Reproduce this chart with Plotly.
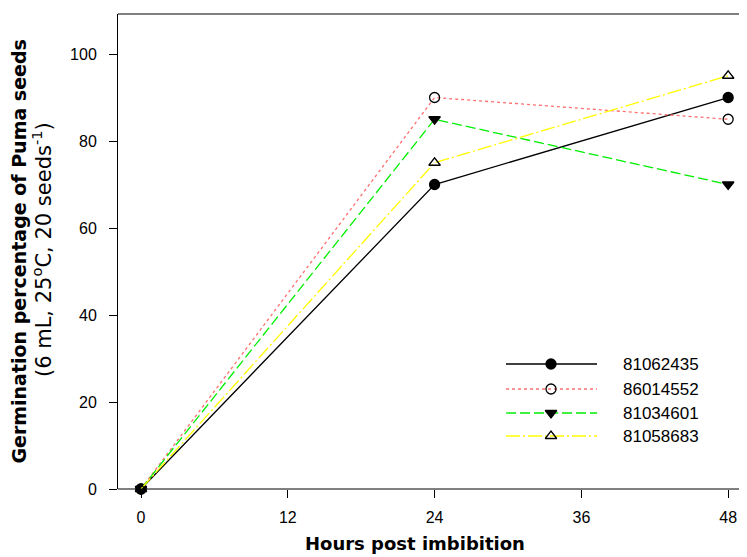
import plotly.graph_objects as go

hours = [0, 24, 48]
series_names = ["81062435", "86014552", "81034601", "81058683"]
s_81062435 = [0, 70, 90]
s_86014552 = [0, 90, 85]
s_81034601 = [0, 85, 70]
s_81058683 = [0, 75, 95]
x_ticks = [0, 12, 24, 36, 48]
y_ticks = [0, 20, 40, 60, 80, 100]

values = [s_81062435, s_86014552, s_81034601, s_81058683]
styles = [
    dict(color="#000000", dash="solid", symbol="circle", mcolor="#000000"),
    dict(color="#ff7070", dash="dot", symbol="circle-open", mcolor="#000000"),
    dict(color="#00ee00", dash="10px,4px", symbol="triangle-down", mcolor="#000000"),
    dict(color="#ffff00", dash="14px,3px,2px,3px", symbol="triangle-up-open", mcolor="#000000"),
]

FONT = "Arial, Liberation Sans, sans-serif"
TFONT = "DejaVu Sans, sans-serif"
fig = go.Figure()

for name, vals, st in zip(series_names, values, styles):
    fig.add_trace(go.Scatter(
        x=hours, y=vals, name=name, mode="lines+markers",
        line=dict(color=st["color"], width=1.3, dash=st["dash"]),
        marker=dict(symbol=st["symbol"], size=10, color=st["mcolor"],
                    line=dict(color="#000000", width=1.3)),
        cliponaxis=False, showlegend=False,
    ))

# custom legend (overlay axes in page-pixel coordinates)
leg_y = [364, 389, 413, 436]
for name, st, ly in zip(series_names, styles, leg_y):
    fig.add_trace(go.Scatter(
        x=[506, 597], y=[ly, ly], mode="lines", xaxis="x2", yaxis="y2",
        line=dict(color=st["color"], width=1.3, dash=st["dash"]),
        showlegend=False, hoverinfo="skip", cliponaxis=False,
    ))
    fig.add_trace(go.Scatter(
        x=[551], y=[ly], mode="markers", xaxis="x2", yaxis="y2",
        marker=dict(symbol=st["symbol"], size=10, color=st["mcolor"],
                    line=dict(color="#000000", width=1.3)),
        showlegend=False, hoverinfo="skip", cliponaxis=False,
    ))
    fig.add_annotation(x=621, y=ly, xref="x2", yref="y2", text=name,
                       showarrow=False, xanchor="left", yanchor="middle",
                       font=dict(family=FONT, size=17, color="#000000"))

fig.update_layout(
    width=739, height=549,
    margin=dict(l=110, r=0, t=6, b=68),
    paper_bgcolor="white", plot_bgcolor="white",
    font=dict(family=FONT, size=16, color="#000000"),
    xaxis=dict(range=[-1.88, 49.54], tickvals=x_ticks, showgrid=False, zeroline=False,
               showline=False, ticks="outside", ticklen=8, tickwidth=1, tickcolor="#000",
               tickfont=dict(size=16), ticklabelstandoff=6, fixedrange=True),
    yaxis=dict(range=[0, 109.2], tickvals=y_ticks, showgrid=False, zeroline=False,
               showline=True, linecolor="#000", linewidth=1,
               ticks="outside", ticklen=8, tickwidth=1, tickcolor="#000",
               tickfont=dict(size=16), ticklabelstandoff=9, fixedrange=True),
    xaxis2=dict(overlaying="x", range=[118, 747], visible=False, fixedrange=True),
    yaxis2=dict(overlaying="y", range=[489, 14], visible=False, fixedrange=True),
    showlegend=False,
)

# x-axis line and top border
fig.add_shape(type="line", xref="paper", yref="paper", x0=0, x1=1, y0=0, y1=0,
              line=dict(color="#000", width=1))
fig.add_shape(type="line", xref="paper", yref="paper", x0=0, x1=1, y0=1, y1=1,
              line=dict(color="#000", width=1))

fig.add_annotation(x=0.4714, y=-0.114, xref="paper", yref="paper",
                   xanchor="center", yanchor="middle",
                   text="<b>Hours post imbibition</b>", showarrow=False,
                   font=dict(family=TFONT, size=18))
fig.add_annotation(x=-0.158, y=0.499, xref="paper", yref="paper", textangle=-90,
                   text="<b>Germination percentage of Puma seeds</b>", showarrow=False,
                   xanchor="center", yanchor="middle", font=dict(family=TFONT, size=19))
fig.add_annotation(x=-0.121, y=0.505, xref="paper", yref="paper", textangle=-90,
                   text="(6 mL, 25<sup>o</sup>C, 20 seeds<sup>-1</sup>)", showarrow=False,
                   xanchor="center", yanchor="middle", font=dict(family=TFONT, size=21))

fig.write_html("out.html")
